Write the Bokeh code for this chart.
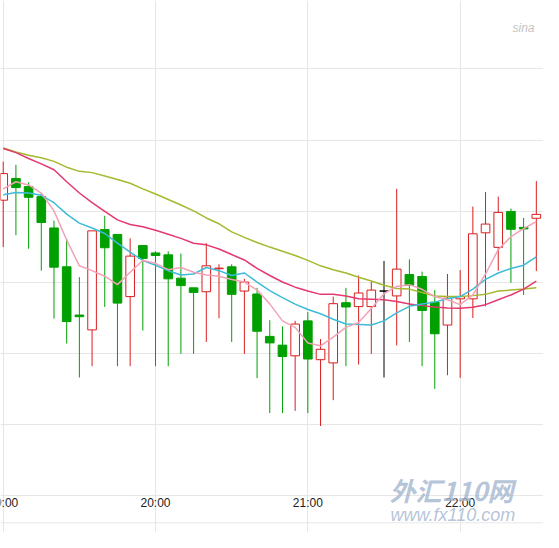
from bokeh.plotting import figure
from bokeh.models import Range1d, FixedTicker, Span, Label, ColumnDataSource
from bokeh.embed import file_html
from bokeh.resources import INLINE
from bokeh.core.properties import value

# 5-minute candles, index 0 = 19:00
hour_ticks = [0, 12, 24, 36]
hour_labels = ["19:00", "20:00", "21:00", "22:00"]

opens = [794.3, 816.7, 808.3, 798.0, 765.7, 725.7, 676.0, 660.7, 764.0, 759.0,
         695.0, 747.7, 740.0, 738.0, 714.0, 704.0, 700.0, 723.7, 725.7, 700.7,
         697.7, 654.0, 645.0, 634.0, 670.0, 630.0, 626.7, 688.7, 684.7, 684.7,
         700.7, 695.7, 717.7, 715.7, 689.3, 665.7, 692.7, 692.7, 760.7, 745.7,
         782.7, 766.3, 775.7]
highs = [834.0, 830.7, 812.7, 801.7, 773.3, 754.7, 715.0, 762.7, 778.3, 759.0,
         755.0, 747.7, 741.7, 741.7, 739.3, 704.0, 750.0, 728.3, 728.3, 713.3,
         704.0, 670.7, 664.3, 670.0, 679.0, 651.3, 695.0, 704.0, 716.7, 710.0,
         731.7, 806.0, 733.3, 720.7, 701.7, 718.3, 722.3, 787.7, 802.7, 798.0,
         785.7, 776.0, 814.0]
lows = [746.0, 758.3, 744.3, 721.7, 672.3, 646.7, 611.7, 623.3, 684.3, 623.3,
        623.3, 660.0, 623.3, 623.3, 636.0, 636.0, 648.3, 672.7, 648.3, 636.0,
        611.0, 575.0, 575.0, 577.3, 575.0, 561.7, 588.3, 623.3, 625.0, 636.0,
        611.7, 644.7, 648.3, 623.3, 600.0, 614.0, 611.3, 673.0, 685.0, 721.7,
        709.3, 696.7, 721.3]
closes = [821.7, 807.3, 797.3, 771.3, 725.3, 669.3, 674.3, 762.7, 745.3, 688.3,
          736.7, 734.3, 737.3, 713.3, 706.3, 699.3, 726.7, 724.3, 697.3, 710.0,
          659.3, 647.3, 633.3, 666.7, 630.7, 640.7, 687.7, 684.3, 698.7, 701.7,
          700.7, 723.3, 706.7, 680.7, 656.7, 693.3, 695.0, 759.7, 769.7, 781.7,
          764.3, 764.7, 779.7]

ma5 = [806.0, 813.3, 810.0, 801.7, 783.3, 753.3, 726.7, 721.7, 716.0, 707.3,
       720.0, 732.2, 729.3, 722.7, 725.0, 720.0, 717.3, 716.0, 712.7, 710.0,
       701.7, 687.5, 670.0, 663.3, 647.3, 644.3, 653.3, 663.3, 668.3, 682.7,
       698.0, 705.5, 707.3, 702.5, 695.0, 691.7, 686.7, 696.7, 718.3, 743.3,
       756.7, 765.0, 772.3]
ma10 = [800.0, 802.3, 801.7, 799.3, 791.7, 780.0, 770.7, 765.7, 760.0, 750.0,
        740.7, 732.2, 727.3, 721.7, 717.3, 718.3, 725.0, 721.7, 716.7, 719.3,
        710.0, 701.2, 694.0, 687.3, 681.7, 677.3, 671.7, 666.7, 666.3, 665.7,
        670.0, 678.3, 685.0, 687.3, 689.3, 692.7, 695.0, 702.7, 712.7, 719.3,
        724.0, 727.3, 736.0]
ma20 = [847.5, 843.3, 837.3, 831.7, 825.7, 813.3, 801.7, 791.7, 782.7, 774.0,
        769.3, 767.0, 763.3, 759.3, 755.0, 750.0, 748.3, 744.0, 738.3, 732.7,
        724.0, 716.7, 710.0, 704.7, 700.7, 697.3, 697.3, 695.7, 692.7, 692.3,
        691.7, 690.0, 687.3, 685.7, 684.3, 683.3, 683.0, 684.0, 686.7, 691.7,
        696.7, 702.7, 711.0]
ma30 = [848.0, 844.0, 840.7, 838.0, 834.3, 828.3, 824.0, 822.7, 819.3, 815.7,
        811.7, 806.0, 800.7, 795.0, 789.3, 783.3, 776.0, 770.0, 761.7, 756.0,
        750.7, 746.0, 741.7, 737.3, 732.3, 726.7, 722.7, 719.3, 715.0, 711.0,
        706.7, 703.3, 702.7, 699.3, 695.7, 695.0, 695.0, 696.0, 697.3, 700.7,
        701.7, 702.7, 704.0]

UP = "#d81e1e"
DOWN = "#00a000"
FLAT = "#000000"
GRID = "#e6e6e6"

x = list(range(len(opens)))
cols, fills, tops, bottoms = [], [], [], []
for o, c in zip(opens, closes):
    if c > o:
        cols.append(UP); fills.append("white")
    elif c < o:
        cols.append(DOWN); fills.append(DOWN)
    else:
        cols.append(FLAT); fills.append(FLAT)
    tops.append(max(o, c)); bottoms.append(min(o, c))

src = ColumnDataSource(dict(x=x, o=opens, h=highs, l=lows, c=closes,
                            top=tops, bottom=bottoms, col=cols, fill=fills))

p = figure(width=543, height=532, output_backend="svg", toolbar_location=None,
           x_range=Range1d(-0.214, 42.566), y_range=Range1d(452, 1000),
           min_border=0, background_fill_color="white", border_fill_color="white")
p.outline_line_color = None
p.xaxis.visible = False
p.yaxis.visible = False
p.xgrid.ticker = FixedTicker(ticks=hour_ticks)
p.ygrid.ticker = FixedTicker(ticks=[490 + 73.25 * k for k in range(-1, 8)])
p.xgrid.grid_line_color = GRID
p.ygrid.grid_line_color = GRID

p.add_layout(Span(location=462, dimension="width", line_color=GRID, line_width=1))

p.segment(x0="x", y0="l", x1="x", y1="h", line_color="col", line_width=1, source=src)
p.vbar(x="x", width=0.68, top="top", bottom="bottom", fill_color="fill",
       line_color="col", line_width=1, source=src)

p.line(x, ma30, line_color="#a6b82e", line_width=1.5)
p.line(x, ma20, line_color="#e4386e", line_width=1.5)
p.line(x, ma10, line_color="#3cbcd8", line_width=1.5)
p.line(x, ma5, line_color="#f2a2b6", line_width=1.5)

# watermarks (drawn beneath the time labels)
p.add_layout(Label(x=389, y=25, x_units="screen", y_units="screen", text="外汇110网",
                   text_font="Noto Sans CJK SC", text_font_size="26px",
                   text_font_style="bold italic", text_color="#a3b5cf", text_alpha=0.8))
p.add_layout(Label(x=390, y=8, x_units="screen", y_units="screen", text="www.fx110.com",
                   text_font="Liberation Sans", text_font_size="18px",
                   text_font_style="italic", text_color="#a3b5cf", text_alpha=0.8))
p.add_layout(Label(x=512, y=498, x_units="screen", y_units="screen", text="sina",
                   text_font="Liberation Sans", text_font_size="12px",
                   text_font_style="italic", text_color="#c4c4c4"))

p.text(x=hour_ticks, y=[482] * len(hour_ticks), text=hour_labels,
       text_align="center", text_baseline="middle",
       text_font=value("Liberation Sans"), text_font_size="12px", text_color="#222222")

open("out.html", "w").write(file_html(p, INLINE))
